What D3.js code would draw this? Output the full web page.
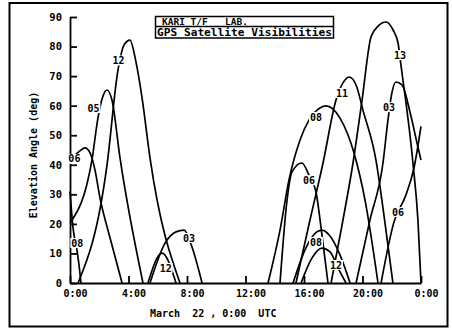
<!DOCTYPE html>
<html>
<head>
<meta charset="utf-8">
<script src="https://cdn.jsdelivr.net/npm/d3@7"></script>
<style>
  html, body { margin: 0; padding: 0; background: #fff; }
  svg { display: block; }
  .lbl { font-family: "DejaVu Sans Mono", monospace; font-weight: bold; }
</style>
</head>
<body>
<div id="chart"></div>
<script>
// tick values / labels
const yTicks = [0, 10, 20, 30, 40, 50, 60, 70, 80, 90];
const xTicks = [0, 4, 8, 12, 16, 20, 24];
const xTickLabels = ['0:00', '4:00', '8:00', '12:00', '16:00', '20:00', '0:00'];

// satellite passes: [hour UTC, elevation deg]
const pass08a = [[0, 31], [0.2, 19], [0.48, 11], [0.62, 6], [0.75, 0]];
const pass06a = [[0, 41.6], [0.68, 44.7], [1.03, 45.7], [1.37, 44], [1.71, 38.2], [2.05, 28.8], [2.74, 15.2], [3.56, 0]];
const pass05a = [[0, 20.3], [1.5, 41.6], [1.91, 55.8], [2.26, 63.3], [2.53, 65.3], [2.87, 61.9], [3.42, 42.3], [4.99, 0]];
const pass12a = [[0.55, 0], [2.53, 39.9], [3.28, 72], [3.69, 80.5], [4.1, 82.2], [4.51, 74.8], [4.92, 62.9], [5.47, 42.3], [7.52, 0]];
const pass12b = [[5.33, 0], [6.29, 10.1], [7.25, 0]];
const pass03a = [[5.47, 0], [6.5, 13.5], [7.25, 17.3], [7.8, 17.9], [8.34, 12.2], [9.03, 0]];
const pass08b = [[13.54, 0], [14.36, 17.9], [14.97, 34.8], [15.73, 48.4], [16.34, 55.1], [17.09, 59.2], [17.5, 59.9], [18.46, 55.8], [19.42, 44], [20.17, 28.1], [21.06, 0]];
const pass06b = [[14.36, 0], [14.84, 28], [15.18, 37.6], [15.86, 40.6], [16.34, 36.5], [16.82, 30.8], [17.23, 16.2], [17.64, 0]];
const pass11 = [[15.45, 0], [16.41, 21.3], [17.3, 40.6], [18.19, 61.9], [18.8, 68.7], [19.08, 69.7], [19.56, 67], [20.03, 58.5], [20.92, 41.6], [21.53, 20.6], [22.08, 0]];
const pass08c = [[15.25, 0], [16.07, 11.2], [16.55, 15.6], [17.23, 17.9], [17.78, 15.9], [18.46, 9.5], [19.15, 0]];
const pass12c = [[15.8, 0], [16.55, 8.5], [17.23, 11.8], [17.78, 10.5], [18.32, 5.1], [18.87, 0]];
const pass13 = [[17.85, 0], [18.6, 19.6], [19.35, 40.6], [19.97, 61.9], [20.58, 83.2], [21.06, 86.9], [21.61, 88.3], [22.09, 85.6], [22.43, 81.2], [22.63, 73.7], [23.45, 40.6], [23.79, 21.3], [24, 0]];
const pass03b = [[19.56, 0], [20.51, 21.3], [21.4, 40.6], [21.74, 55.1], [22.02, 64.6], [22.29, 68], [22.7, 67], [23.25, 57.8], [23.79, 46], [24, 41.6]];
const pass06c = [[21.27, 0], [22.15, 20.6], [22.97, 29.8], [23.52, 38.9], [24, 53]];

const passes = [pass08a, pass06a, pass05a, pass12a, pass12b, pass03a, pass08b, pass06b, pass11, pass08c, pass12c, pass13, pass03b, pass06c];

// PRN labels and where they sit [hour, elevation]
const prnNames = ['08', '06', '05', '12', '12', '03', '08', '06', '11', '08', '12', '13', '03', '06'];
const prnLabelPos = [[0.5, 13.5], [0.3, 42], [1.6, 59.2], [3.32, 75.3], [6.54, 5.1], [8.14, 15.2], [16.82, 56.2], [16.34, 34.8], [18.6, 64.3], [16.82, 13.9], [18.19, 6.1], [22.56, 77.1], [21.81, 59.5], [22.43, 24]];

(() => {
    const W = 452, H = 330;
    const svg = d3.select('#chart').append('svg')
        .attr('width', W)
        .attr('height', H);

    // outer frame
    svg.append('rect')
        .attr('x', 9.5).attr('y', 3)
        .attr('width', 438).attr('height', 323.5)
        .attr('fill', 'none')
        .attr('stroke', '#000')
        .attr('stroke-width', 2);

    const x = d3.scaleLinear().domain([0, 24]).range([70, 421]);
    const y = d3.scaleLinear().domain([0, 90]).range([283, 17]);

    // axes, ticks pointing inward
    const yAxis = svg.append('g')
        .attr('transform', 'translate(70,0)')
        .call(d3.axisLeft(y).tickValues(yTicks).tickSize(-7).tickSizeOuter(0).tickPadding(8));
    yAxis.selectAll('text')
        .attr('class', 'lbl')
        .style('font-size', '10.5px');

    const xAxis = svg.append('g')
        .attr('transform', 'translate(0,283)')
        .call(d3.axisBottom(x).tickValues(xTicks).tickSize(-7).tickSizeOuter(0).tickPadding(7)
            .tickFormat((d, i) => xTickLabels[i]));
    xAxis.selectAll('text')
        .attr('class', 'lbl')
        .attr('dx', 5)
        .style('font-size', '10px');

    svg.selectAll('.domain, .tick line')
        .attr('stroke', '#000')
        .attr('stroke-width', 1.8);

    // pass curves
    const line = d3.line()
        .x(d => x(d[0]))
        .y(d => y(d[1]))
        .curve(d3.curveMonotoneX);

    svg.append('g')
        .selectAll('path')
        .data(passes)
        .enter()
        .append('path')
        .attr('d', line)
        .attr('fill', 'none')
        .attr('stroke', '#000')
        .attr('stroke-width', 1.7);

    // PRN labels with a white gap behind them
    const labels = svg.append('g')
        .selectAll('g')
        .data(prnNames)
        .enter()
        .append('g')
        .attr('transform', (d, i) => `translate(${x(prnLabelPos[i][0])},${y(prnLabelPos[i][1])})`);

    labels.append('rect')
        .attr('x', -7).attr('y', -5)
        .attr('width', 14).attr('height', 10)
        .attr('fill', '#fff');

    labels.append('text')
        .attr('class', 'lbl')
        .attr('text-anchor', 'middle')
        .attr('dy', '0.36em')
        .style('font-size', '10px')
        .text(d => d);

    // axis titles
    svg.append('text')
        .attr('class', 'lbl')
        .attr('transform', 'translate(37,155) rotate(-90)')
        .attr('text-anchor', 'middle')
        .style('font-size', '10px')
        .text('Elevation Angle (deg)');

    svg.append('text')
        .attr('class', 'lbl')
        .attr('x', 150).attr('y', 317)
        .style('font-size', '10px')
        .style('white-space', 'pre')
        .text('March  22 , 0:00  UTC');

    // title box
    const tb = svg.append('g');
    tb.append('rect')
        .attr('x', 155.5).attr('y', 16.5)
        .attr('width', 178).attr('height', 21.5)
        .attr('fill', '#fff')
        .attr('stroke', '#000')
        .attr('stroke-width', 1.5);
    tb.append('line')
        .attr('x1', 155.5).attr('x2', 333.5)
        .attr('y1', 26.5).attr('y2', 26.5)
        .attr('stroke', '#000')
        .attr('stroke-width', 1.5);
    tb.append('text')
        .attr('class', 'lbl')
        .attr('x', 162).attr('y', 25)
        .style('font-size', '9.5px')
        .text('KARI T/F');
    tb.append('text')
        .attr('class', 'lbl')
        .attr('x', 225).attr('y', 25)
        .style('font-size', '9.5px')
        .text('LAB.');
    tb.append('text')
        .attr('class', 'lbl')
        .attr('x', 157).attr('y', 35.5)
        .attr('textLength', 175)
        .attr('lengthAdjust', 'spacingAndGlyphs')
        .style('font-size', '10px')
        .text('GPS Satellite Visibilities');
})();
</script>
</body>
</html>
